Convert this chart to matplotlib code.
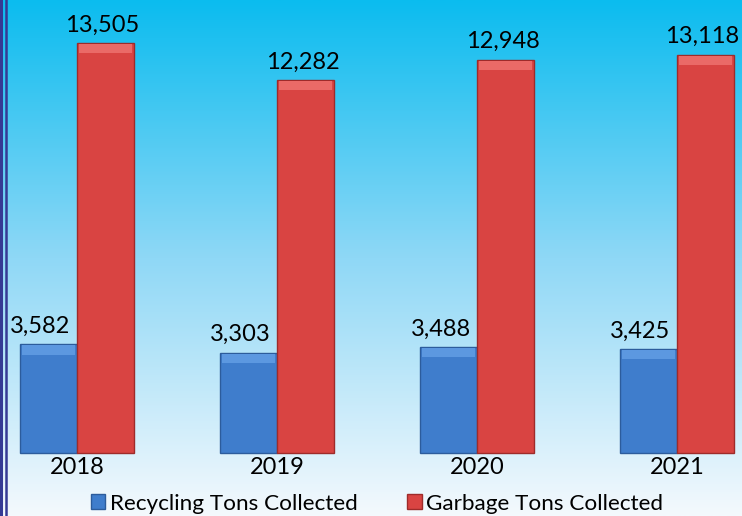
import numpy as np
import matplotlib
matplotlib.use("Agg")
import matplotlib.pyplot as plt
from matplotlib.colors import LinearSegmentedColormap

plt.rcParams["font.family"] = ["Lato", "DejaVu Sans"]

years = ["2018", "2019", "2020", "2021"]
recycling = [3582, 3303, 3488, 3425]
garbage = [13505, 12282, 12948, 13118]

fig = plt.figure(figsize=(7.42, 5.16), dpi=100)
ax = fig.add_axes([0, 0, 1, 1])

# gradient background
bg = LinearSegmentedColormap.from_list("bg", ["#f4f9fd", "#8fd8f6", "#0bbcef"])
grad = np.linspace(0, 1, 256).reshape(-1, 1)
ax.imshow(grad, cmap=bg, aspect="auto", origin="lower",
          extent=[-0.385, 3.325, -2075, 14921], zorder=0)

x = np.arange(len(years))
w = 0.285
hl = 300  # bevel band height in data units

ax.bar(x - w / 2, recycling, w, color="#3f7dcc", edgecolor="#2c5c9c", linewidth=1, zorder=2)
ax.bar(x + w / 2, garbage, w, color="#d94442", edgecolor="#9e2b2a", linewidth=1, zorder=2)
ax.bar(x - w / 2, hl, w * 0.94, bottom=np.array(recycling) - hl - 40, color="#5c98e0", linewidth=0, zorder=3)
ax.bar(x + w / 2, hl, w * 0.94, bottom=np.array(garbage) - hl - 40, color="#ea6a67", linewidth=0, zorder=3)

for i in range(len(years)):
    ax.text(x[i] - w / 2 - 0.04, recycling[i] + 250, f"{recycling[i]:,}", ha="center", va="bottom",
            fontsize=17, zorder=4)
    ax.text(x[i] + w / 2 - 0.015, garbage[i] + 250, f"{garbage[i]:,}", ha="center", va="bottom",
            fontsize=17, zorder=4)
    ax.text(x[i], -130, years[i], ha="center", va="top", fontsize=17, zorder=4)

ax.set_xlim(-0.385, 3.325)
ax.set_ylim(-2075, 14921)
ax.axis("off")

# left border lines
ax.axvline(-0.385 + 1.2 / 200, color="#353a94", linewidth=2.2, zorder=5)
ax.axvline(-0.385 + 5.5 / 200, color="#353a94", linewidth=1.8, zorder=5)

h1 = plt.Rectangle((0, 0), 1, 1, facecolor="#3f7dcc", edgecolor="#2c5c9c")
h2 = plt.Rectangle((0, 0), 1, 1, facecolor="#d94442", edgecolor="#9e2b2a")
fig.legend([h1, h2], ["Recycling Tons Collected", "Garbage Tons Collected"],
           loc="lower center", bbox_to_anchor=(0.508, -0.035), ncol=2, frameon=False,
           fontsize=16.2, handlelength=0.65, handleheight=0.65, handletextpad=0.2,
           columnspacing=2.2)

fig.savefig("out.png", dpi=100)
